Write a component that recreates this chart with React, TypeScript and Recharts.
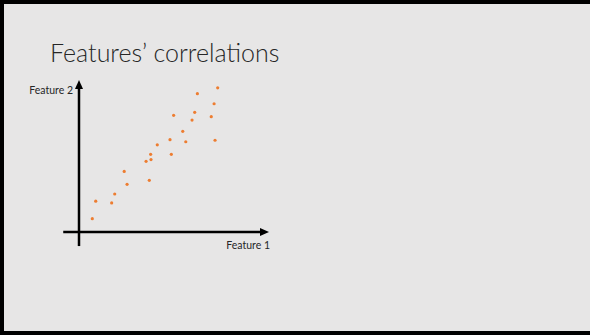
import React from 'react';
import { ScatterChart, Scatter, XAxis, YAxis, ReferenceLine } from 'recharts';

const featureOne = [0.7, 0.88, 1.72, 1.88, 2.38, 2.53, 3.53, 3.77, 3.79, 3.7, 4.12, 4.79, 4.86, 4.98, 5.46, 5.62, 5.95, 6.09, 6.23, 6.96, 7.11, 7.16, 7.3];
const featureTwo = [0.7, 1.62, 1.53, 2.0, 3.19, 2.51, 3.72, 4.09, 3.81, 2.72, 4.59, 4.86, 4.09, 6.14, 5.3, 4.75, 5.89, 6.3, 7.28, 6.07, 6.75, 4.83, 7.59];
const axisNames = ['Feature 1', 'Feature 2'];

const points = featureOne.map((x, i) => ({ x, y: featureTwo[i] }));

const makeArrow = (text: string, dx: number, dy: number) => (props: any) => {
  const { x1, y1, x2, y2 } = props;
  const len = Math.hypot(x2 - x1, y2 - y1) || 1;
  const ux = (x2 - x1) / len;
  const uy = (y2 - y1) / len;
  const head = 9;
  const half = 4;
  const bx = x2 - ux * head;
  const by = y2 - uy * head;
  const pts = `${x2},${y2} ${bx - uy * half},${by + ux * half} ${bx + uy * half},${by - ux * half}`;
  return (
    <g>
      <line x1={x1} y1={y1} x2={bx + ux} y2={by + uy} stroke="#000" strokeWidth={2.5} />
      <polygon points={pts} fill="#000" />
      <text x={x2 + dx} y={y2 + dy} textAnchor="end" fontSize={10.5} fontFamily="Lato, sans-serif" fill="#262626">
        {text}
      </text>
    </g>
  );
};

const dot = (props: any) => <circle cx={props.cx} cy={props.cy} r={1.6} fill="#ED7D31" />;

export default function App() {
  return (
    <div style={{ position: 'fixed', left: 0, top: 0, width: 590, height: 335 }}>
      <div
        style={{
          position: 'absolute',
          inset: 0,
          boxSizing: 'border-box',
          background: '#e7e6e6',
          borderTop: '4px solid #000',
          borderLeft: '4px solid #000',
          borderBottom: '4px solid #000',
        }}
      />
      <div
        style={{
          position: 'absolute',
          left: 50,
          top: 37,
          fontFamily: 'Lato, sans-serif',
          fontWeight: 300,
          fontSize: 25,
          lineHeight: '30px',
          color: '#262626',
          whiteSpace: 'nowrap',
        }}
      >
        Features’ correlations
      </div>
      <div style={{ position: 'absolute', left: 0, top: 0 }}>
        <ScatterChart width={590} height={335} margin={{ top: 80, right: 321, bottom: 84, left: 60 }}>
          <XAxis type="number" dataKey="x" domain={[-1, 10]} hide />
          <YAxis type="number" dataKey="y" domain={[-1, 8]} hide />
          <ReferenceLine
            segment={[{ x: -0.83, y: 0 }, { x: 10, y: 0 }]}
            shape={makeArrow(axisNames[0], 1, 17)}
          />
          <ReferenceLine
            segment={[{ x: 0, y: -0.74 }, { x: 0, y: 8 }]}
            shape={makeArrow(axisNames[1], -6, 14)}
          />
          <Scatter data={points} shape={dot} isAnimationActive={false} />
        </ScatterChart>
      </div>
    </div>
  );
}
